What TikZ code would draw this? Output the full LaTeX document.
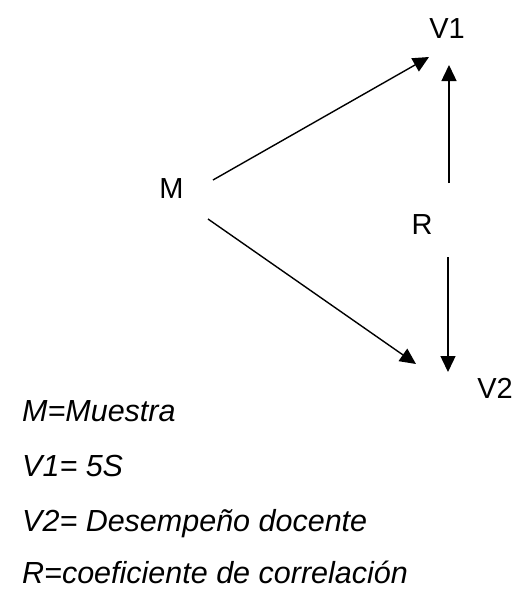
\documentclass[tikz,border=0pt]{standalone}
\usepackage{fontspec}
\setmainfont{Liberation Sans}
\usetikzlibrary{arrows.meta}
\begin{document}
\begin{tikzpicture}[x=1pt,y=-1pt,
  lbl/.style={font=\fontsize{29}{34}\selectfont, inner sep=0pt, anchor=base},
  leg/.style={font=\fontsize{30.5}{36}\selectfont\itshape, inner sep=0pt, anchor=base west},
  arr/.style={line width=1.4pt, -{Triangle[length=16pt,width=15pt]}}]
\useasboundingbox (0,0) rectangle (515,590);
\node[lbl] (M) at (171.5,198) {M};
\node[lbl] (V1) at (447,38) {V1};
\node[lbl] (R) at (422,234) {R};
\node[lbl] (V2) at (495,398) {V2};
\coordinate (m1) at (213,180);
\coordinate (m2) at (208,219);
\coordinate (t1) at (429,57);
\coordinate (t2) at (416,364);
\coordinate (r1) at (449,183);
\coordinate (u1) at (449,65);
\coordinate (r2) at (448,257);
\coordinate (d2) at (448,372);
\draw[arr] (m1) -- (t1);
\draw[arr] (m2) -- (t2);
\draw[arr] (r1) -- (u1);
\draw[arr] (r2) -- (d2);
\node[leg] (L1) at (22,421) {M=Muestra};
\node[leg] (L2) at (22,476) {V1= 5S};
\node[leg] (L3) at (22,531) {V2= Desempeño docente};
\node[leg] (L4) at (22,583) {R=coeficiente de correlación};
\end{tikzpicture}
\end{document}
